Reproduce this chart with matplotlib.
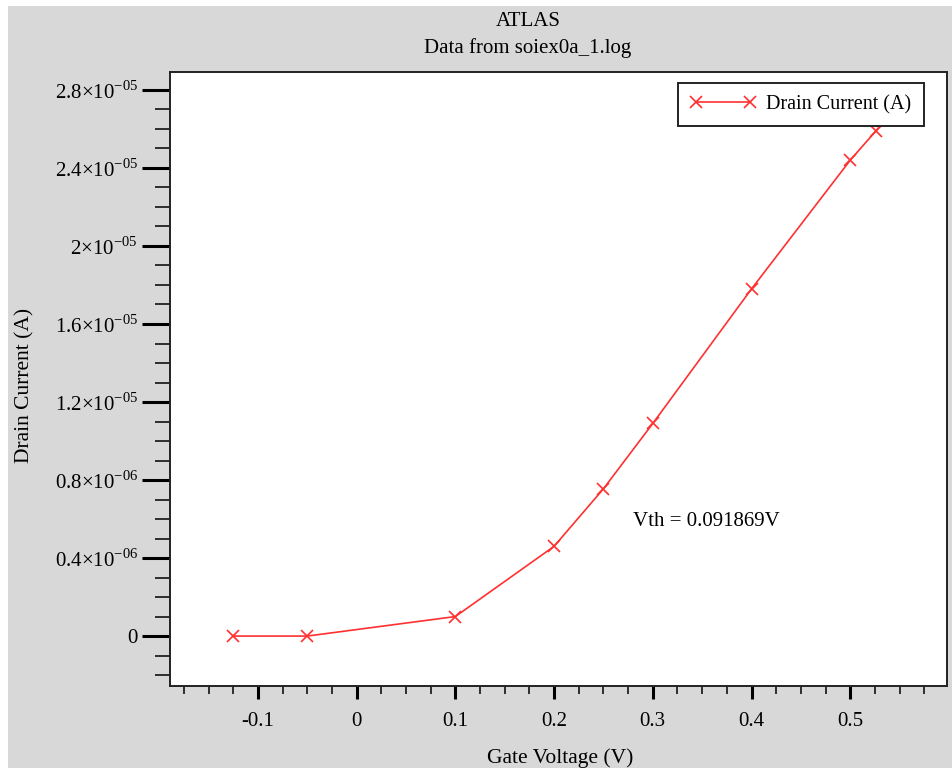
import matplotlib
matplotlib.use("Agg")
import matplotlib.pyplot as plt
from matplotlib.patches import Rectangle
from matplotlib.ticker import MultipleLocator, FixedLocator

# --- data ---
gate_voltage = [-0.125, -0.05, 0.1, 0.2, 0.25, 0.3, 0.4, 0.5, 0.526, 0.55]
drain_current = [0.0, 0.0, 1.0e-6, 4.6e-6, 7.55e-6, 10.9e-6, 17.8e-6, 24.4e-6, 25.9e-6, 27.4e-6]

y_tick_values = [0, 4e-6, 8e-6, 12e-6, 16e-6, 20e-6, 24e-6, 28e-6]
y_tick_mant = ["0", "0.4", "0.8", "1.2", "1.6", "2", "2.4", "2.8"]
y_tick_exp = ["", "-06", "-06", "-05", "-05", "-05", "-05", "-05"]
x_tick_values = [-0.1, 0, 0.1, 0.2, 0.3, 0.4, 0.5]
x_tick_labels = ["-0.1", "0", "0.1", "0.2", "0.3", "0.4", "0.5"]

BG = "#d8d8d8"
RED = "#ff3030"

plt.rcParams["font.family"] = ["Liberation Serif", "DejaVu Serif"]
plt.rcParams["mathtext.fontset"] = "custom"
plt.rcParams["mathtext.rm"] = "Liberation Serif"
plt.rcParams["font.size"] = 15

fig = plt.figure(figsize=(9.53, 7.68), dpi=100, facecolor="white")
# grey panel (small white margin top/left as in the reference)
fig.patches.append(Rectangle((8 / 953, 0), 1, 762 / 768, transform=fig.transFigure,
                             facecolor=BG, edgecolor="none", zorder=-10))

ax = fig.add_axes([170 / 953, (768 - 686) / 768, 777 / 953, 614 / 768])
ax.set_facecolor("white")

ax.plot(gate_voltage, drain_current, color=RED, lw=1.2, marker="x", ms=9,
        mew=1.2, label="Drain Current (A)")

ax.set_xlim(-0.189, 0.598)
ax.set_ylim(-2.56e-6, 28.92e-6)

labels = []
for m, e in zip(y_tick_mant, y_tick_exp):
    if e:
        labels.append(m + "\u00d710$^{\\mathregular{" + e + "}}$")
    else:
        labels.append(m)
ax.yaxis.set_major_locator(FixedLocator(y_tick_values))
ax.set_yticklabels(labels)
ax.yaxis.set_minor_locator(MultipleLocator(1e-6))

ax.xaxis.set_major_locator(FixedLocator(x_tick_values))
ax.set_xticklabels(x_tick_labels)
ax.xaxis.set_minor_locator(MultipleLocator(0.025))

ax.tick_params(axis="y", which="major", direction="out", length=20, width=2.2, pad=3, labelsize=15)
ax.tick_params(axis="y", which="minor", direction="out", length=11, width=1.1)
ax.tick_params(axis="x", which="major", direction="out", length=9.5, width=2.2, pad=9, labelsize=15)
ax.tick_params(axis="x", which="minor", direction="out", length=6, width=1.1)

for s in ax.spines.values():
    s.set_linewidth(1.4)
    s.set_color("#222222")

ax.set_xlabel("Gate Voltage (V)", fontsize=15.5, va="center")
ax.xaxis.set_label_coords(0.502, -0.117)
ax.set_ylabel("Drain Current (A)", fontsize=15.5, va="center")
ax.yaxis.set_label_coords(-0.187, 0.49)

ax.text(0.28, 5.85e-6, "Vth = 0.091869V", fontsize=15, ha="left", va="center")

leg = ax.legend(loc="upper right", bbox_to_anchor=(0.970, 0.982), fontsize=14.5,
                frameon=True, fancybox=False, framealpha=1, edgecolor="#222222",
                handlelength=3.3, handletextpad=0.5, borderpad=0.6,
                borderaxespad=0, numpoints=2)
leg.get_frame().set_linewidth(1.4)

fig.text(528 / 953, 1 - 21 / 768, "ATLAS", ha="center", va="center", fontsize=15)
fig.text(528 / 953, 1 - 48 / 768, "Data from soiex0a_1.log", ha="center", va="center", fontsize=15)

fig.savefig("out.png", dpi=100, facecolor=fig.get_facecolor())
